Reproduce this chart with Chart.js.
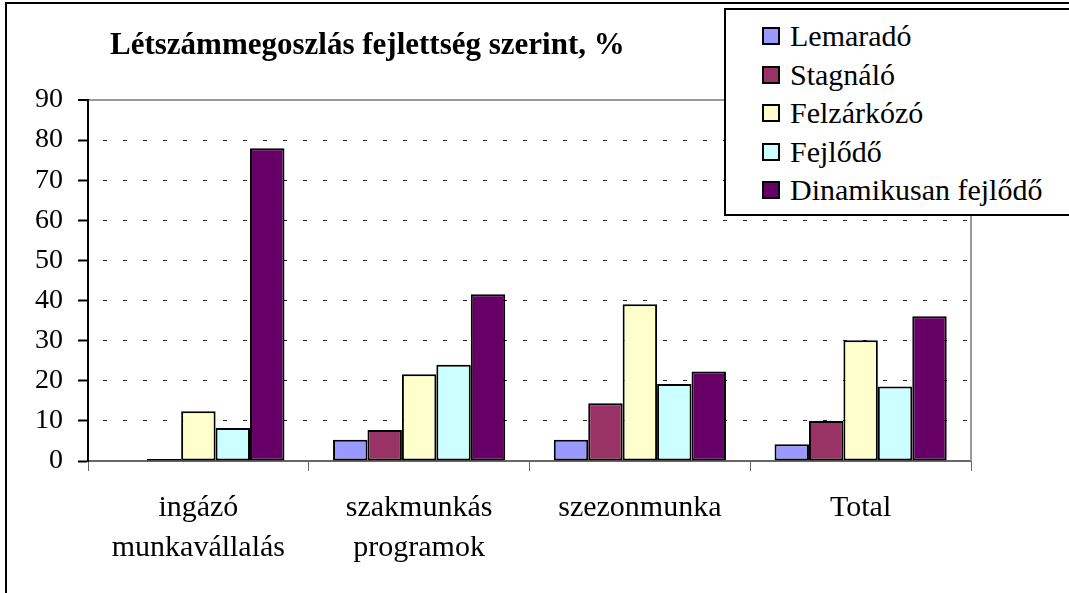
<!DOCTYPE html>
<html>
<head>
<meta charset="utf-8">
<script src="https://cdn.jsdelivr.net/npm/chart.js@4"></script>
<style>
  body { margin: 0; background: #fff; overflow: hidden; }
  #wrap { position: relative; width: 1069px; height: 593px; overflow: hidden; }
  #frame { position: absolute; left: 5px; top: 2px; width: 1100px; height: 620px; border: 2px solid #000; }
  #id_title { position: absolute; left: 110px; top: 29px; font: bold 31px "Liberation Serif", "Times New Roman", serif; line-height: 30px; white-space: nowrap; }
  #id_legend { position: absolute; left: 724px; top: 8px; width: 380px; height: 208px; box-sizing: border-box; border: 2px solid #000; background: #fff; padding-top: 7px; }
  .item { display: flex; align-items: center; height: 38.5px; font: 30px "Liberation Serif", "Times New Roman", serif; white-space: nowrap; }
  .box { width: 14px; height: 14px; border: 2px solid #000; margin-left: 36px; margin-right: 10px; }
  canvas { position: absolute; left: 0; top: 0; }
</style>
</head>
<body>
<div id="wrap">
  <div id="frame"></div>
  <canvas id="id_canv" width="1069" height="593"></canvas>
  <div id="id_title">Létszámmegoszlás fejlettség szerint, %</div>
  <div id="id_legend"></div>
</div>
<script>
// categories and values
const categories = [['ingázó', 'munkavállalás'], ['szakmunkás', 'programok'], 'szezonmunka', 'Total']
const seriesNames = ['Lemaradó', 'Stagnáló', 'Felzárkózó', 'Fejlődő', 'Dinamikusan fejlődő']
const lemarado = [0, 5.3, 5.3, 4.2]
const stagnalo = [0.5, 7.7, 14.4, 10.0]
const felzarkozo = [12.4, 21.6, 39.1, 30.1]
const fejlodo = [8.2, 24.0, 19.2, 18.6]
const dinamikus = [78.0, 41.6, 22.3, 36.1]
const yTicks = [0, 10, 20, 30, 40, 50, 60, 70, 80, 90]

const colors = ['#9999FF', '#993366', '#FFFFCC', '#CCFFFF', '#660066']
const serif = '"Liberation Serif", "Times New Roman", serif'

let seriesValues = [lemarado, stagnalo, felzarkozo, fejlodo, dinamikus]

// legend as html, built from the same arrays
let legend = document.getElementById('id_legend')
seriesNames.forEach((name, i) => {
  let row = document.createElement('div')
  row.className = 'item'
  row.innerHTML = `<span class="box" style="background:${colors[i]}"></span><span>${name}</span>`
  legend.appendChild(row)
})

// gray frame on the right side of the plot area
const plotFrame = {
  id: 'plotFrame',
  afterDatasetsDraw(chart) {
    let a = chart.chartArea
    let c = chart.ctx
    c.save()
    c.strokeStyle = '#999'
    c.lineWidth = 2
    c.beginPath()
    c.moveTo(a.right, a.top)
    c.lineTo(a.right, a.bottom)
    c.stroke()
    c.restore()
  }
}

new Chart(document.getElementById('id_canv'), {
  type: 'bar',
  data: {
    labels: categories,
    datasets: seriesNames.map((name, i) => ({
      label: name,
      data: seriesValues[i],
      backgroundColor: colors[i],
      borderColor: '#000',
      borderWidth: 2,
      borderSkipped: false,
      categoryPercentage: 0.78,
      barPercentage: 1
    }))
  },
  options: {
    responsive: false,
    animation: false,
    layout: { padding: { top: 100, right: 98, bottom: 0, left: 0 } },
    plugins: {
      legend: { display: false },
      title: { display: false },
      tooltip: { enabled: false }
    },
    scales: {
      x: {
        afterFit: (s) => { s.height = 132 },
        grid: { drawOnChartArea: false, tickLength: 10, tickColor: '#666', tickWidth: 1 },
        border: { color: '#666', width: 2 },
        ticks: {
          color: '#000',
          padding: 17,
          maxRotation: 0,
          autoSkip: false,
          font: { family: serif, size: 30, lineHeight: '40px' }
        }
      },
      y: {
        min: 0,
        max: 90,
        afterFit: (s) => { s.width = 88 },
        afterBuildTicks: (s) => { s.ticks = yTicks.map(v => ({ value: v })) },
        grid: {
          color: (c) => c.tick && c.tick.value == 90 ? '#999' : (c.tick && c.tick.value == 0 ? 'rgba(0,0,0,0)' : '#222'),
          lineWidth: (c) => c.tick && c.tick.value == 90 ? 2 : 1,
          tickLength: 10,
          tickColor: '#000',
          tickWidth: 2
        },
        border: {
          color: '#000',
          width: 2,
          dash: (c) => c.tick && c.tick.value < 90 ? [4, 16] : [],
          dashOffset: 6
        },
        ticks: {
          color: '#000',
          padding: 15,
          font: { family: serif, size: 28 }
        }
      }
    }
  },
  plugins: [plotFrame]
})
</script>
</body>
</html>
